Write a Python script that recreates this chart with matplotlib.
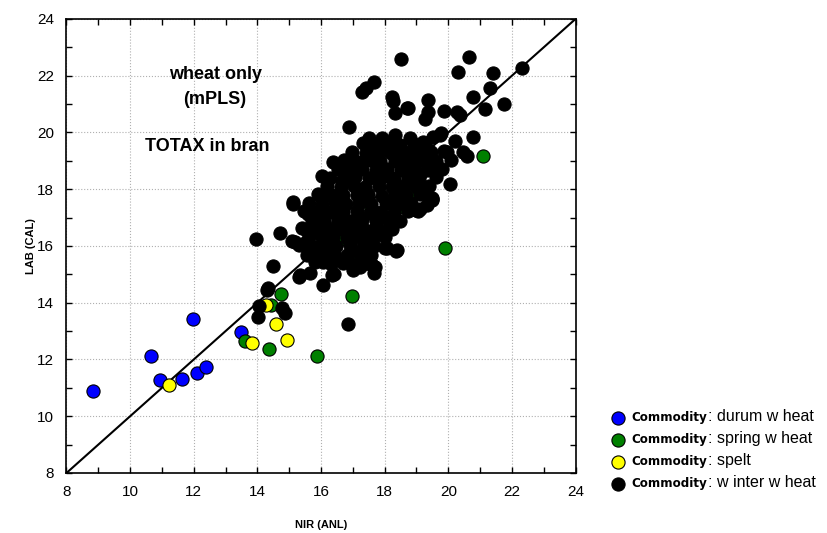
import matplotlib
matplotlib.use("Agg")
import matplotlib.pyplot as plt
from matplotlib.ticker import MultipleLocator

plt.rcParams['font.family'] = ['Liberation Sans', 'DejaVu Sans']

# ---------------- data ----------------
durum_x = [8.84, 10.66, 10.94, 11.63, 11.98, 12.10, 12.39, 13.49]
durum_y = [10.89, 12.12, 11.28, 11.31, 13.43, 11.52, 11.74, 12.97]

spring_x = [13.61, 14.37, 14.43, 14.74, 15.88, 16.97, 19.90, 21.10, 17.58, 18.46,
            16.38, 18.71, 18.90, 15.88, 16.44, 17.17, 16.57]
spring_y = [12.65, 12.37, 13.92, 14.31, 12.12, 14.24, 15.93, 19.17, 17.34, 17.37,
            17.76, 17.94, 17.87, 15.93, 15.58, 15.65, 16.21]

spelt_x = [11.22, 13.83, 14.27, 14.58, 14.93]
spelt_y = [11.10, 12.58, 13.92, 13.25, 12.69]

winter_x = [
    18.52, 17.67, 17.42, 17.29, 18.23, 18.27, 18.74, 18.33, 16.88, 17.51, 17.92, 16.38, 16.82, 16.03,
    20.66, 20.31, 21.41, 22.32, 21.32, 20.78, 21.76, 21.16, 19.37, 18.71, 19.37, 19.27, 19.87, 20.28,
    20.37, 20.78, 20.22, 19.78, 19.53, 20.47, 20.59,
    15.12, 15.60, 15.97, 14.71, 13.96, 15.56, 15.09, 15.50, 14.49, 15.31, 15.66, 16.07, 16.41, 17.01,
    17.23, 17.64, 17.67, 16.70, 14.34, 18.08, 18.36, 18.99,
    20.06, 19.49, 19.33, 19.12, 19.21, 18.87, 19.12, 19.50,
    14.31, 14.06, 14.03, 14.78, 14.87, 16.85,
    16.66, 17.48, 17.39, 16.91, 18.33, 18.80, 19.21, 19.74, 19.37, 19.96, 18.11, 18.55, 18.90, 19.33,
    18.58, 19.53, 19.05, 17.77, 17.64, 18.17, 19.49,
    15.13, 16.03, 16.03, 15.56, 15.18, 15.50, 15.56, 15.34, 16.34, 17.00, 17.17, 17.61, 16.60, 16.28,
    16.50, 15.91, 16.07, 16.70, 17.23, 16.91, 17.45, 17.70,
    19.49, 19.05, 19.18, 18.39, 18.01, 17.70, 18.17,
    17.32, 17.71, 18.12, 18.48, 18.93, 19.28,
    16.98, 17.42, 17.83, 18.21, 18.64, 19.02, 19.46, 19.88,
    16.71, 17.08, 17.53, 17.87, 18.32, 18.69, 19.13, 19.62, 20.08,
    16.52, 16.93, 17.28, 17.74, 18.09, 18.53, 18.91, 19.34, 19.79,
    16.27, 16.73, 17.06, 17.52, 17.93, 18.28, 18.72, 19.08, 19.61,
    16.18, 16.62, 17.03, 17.38, 17.81, 18.24, 18.57, 19.02, 19.41,
    15.92, 16.31, 16.68, 17.14, 17.49, 17.92, 18.33, 18.68, 19.12,
    15.63, 16.02, 16.43, 16.79, 17.21, 17.58, 18.03, 18.41, 18.82,
    15.48, 15.91, 16.32, 16.69, 17.12, 17.53, 17.88, 18.29, 18.73,
    15.72, 16.08, 16.52, 16.91, 17.28, 17.73, 18.12, 18.47,
    15.41, 15.83, 16.19, 16.62, 17.02, 17.38, 17.79, 18.23,
    15.62, 16.03, 16.38, 16.83, 17.19, 17.62, 18.02,
    15.32, 15.71, 16.13, 16.48, 16.92, 17.31, 17.68,
    15.61, 16.02, 16.41, 16.82, 17.22, 17.58,
    15.82, 16.31, 16.88, 17.42,
]
winter_y = [
    22.59, 21.78, 21.57, 21.43, 21.25, 21.11, 20.86, 20.69, 20.19, 19.81, 19.81, 18.96, 18.85, 18.47,
    22.66, 22.13, 22.10, 22.27, 21.57, 21.25, 21.00, 20.83, 21.15, 20.86, 20.72, 20.48, 20.76, 20.72,
    20.62, 19.84, 19.70, 19.98, 19.84, 19.31, 19.17,
    17.48, 17.13, 16.92, 16.46, 16.25, 16.53, 16.18, 16.11, 15.30, 14.91, 15.05, 14.63, 15.01, 15.26,
    15.26, 15.30, 15.05, 15.40, 14.52, 15.93, 15.82, 17.27,
    18.18, 17.66, 17.44, 17.30, 18.04, 18.22, 18.54, 18.68,
    14.45, 13.88, 13.50, 13.81, 13.64, 13.25,
    18.29, 19.28, 19.03, 18.61, 19.91, 19.81, 19.66, 19.91, 19.38, 19.31, 19.38, 19.28, 19.03, 18.96,
    18.93, 18.68, 18.04, 19.03, 18.43, 18.43, 17.69,
    17.55, 17.69, 16.92, 16.56, 16.14, 16.11, 15.68, 14.98, 14.98, 15.15, 15.33, 15.33, 17.16, 16.39,
    16.74, 15.96, 15.44, 15.51, 15.79, 16.28, 16.14, 16.63,
    17.62, 17.23, 18.04, 15.86, 15.93, 15.26, 16.67,
    19.62, 19.58, 19.63, 19.57, 19.61, 19.59,
    19.31, 19.28, 19.33, 19.29, 19.32, 19.27, 19.30, 19.33,
    19.02, 18.98, 19.03, 18.99, 19.01, 18.97, 19.02, 18.99, 19.03,
    18.71, 18.68, 18.72, 18.69, 18.73, 18.68, 18.71, 18.67, 18.72,
    18.41, 18.38, 18.42, 18.39, 18.43, 18.37, 18.41, 18.38, 18.42,
    18.12, 18.08, 18.11, 18.07, 18.13, 18.09, 18.12, 18.08, 18.11,
    17.82, 17.78, 17.81, 17.79, 17.83, 17.77, 17.81, 17.79, 17.82,
    17.52, 17.48, 17.51, 17.49, 17.53, 17.47, 17.52, 17.48, 17.51,
    17.22, 17.18, 17.21, 17.19, 17.23, 17.17, 17.21, 17.19, 17.22,
    16.92, 16.88, 16.91, 16.89, 16.93, 16.87, 16.91, 16.89,
    16.62, 16.58, 16.61, 16.59, 16.63, 16.57, 16.61, 16.59,
    16.32, 16.28, 16.31, 16.29, 16.33, 16.27, 16.31,
    16.02, 15.98, 16.01, 15.99, 16.03, 15.97, 16.01,
    15.72, 15.68, 15.71, 15.69, 15.73, 15.67,
    15.42, 15.38, 15.43, 15.39,
]

groups = ["durum w heat", "spring w heat", "spelt", "w inter w heat"]
colors = ["#0000FF", "#008000", "#FFFF00", "#000000"]

# ---------------- figure ----------------
fig = plt.figure(figsize=(8.27, 5.33), dpi=100)
ax = fig.add_axes([0.0804, 0.1126, 0.6155, 0.8518])

ax.set_xlim(8, 24)
ax.set_ylim(8, 24)
ax.plot([8, 24], [8, 24], color='black', lw=1.5, zorder=2)

series = [(durum_x, durum_y), (spring_x, spring_y), (spelt_x, spelt_y), (winter_x, winter_y)]
handles = []
for (xs, ys), c in zip(series, colors):
    h = ax.scatter(xs, ys, s=90, c=c, edgecolors='black', linewidths=0.8, zorder=3, clip_on=False)
    handles.append(h)

ax.xaxis.set_major_locator(MultipleLocator(2))
ax.yaxis.set_major_locator(MultipleLocator(2))
ax.xaxis.set_minor_locator(MultipleLocator(1))
ax.yaxis.set_minor_locator(MultipleLocator(1))
ax.tick_params(which='both', direction='in', top=True, right=True, width=1.0)
ax.tick_params(which='major', length=4, labelsize=11, pad=9)
ax.tick_params(which='minor', length=4)
ax.grid(True, which='major', linestyle=':', color='#b0b0b0', lw=0.8)
ax.set_axisbelow(True)
for sp in ax.spines.values():
    sp.set_linewidth(1.2)

ax.set_xlabel("NIR (ANL)", fontsize=8, fontweight='bold', labelpad=14.5)
ax.set_ylabel("LAB (CAL)", fontsize=8, fontweight='bold', labelpad=0.5)

ax.text(12.67, 22.03, "wheat only", ha='center', va='center', fontsize=13, fontweight='bold')
ax.text(12.67, 21.15, "(mPLS)", ha='center', va='center', fontsize=13, fontweight='bold')
ax.text(12.42, 19.52, "TOTAX in bran", ha='center', va='center', fontsize=13, fontweight='bold')

leg = ax.legend(handles, ["Commodity"] * 4, loc='center left',
                bbox_to_anchor=(0.733, 0.155), bbox_transform=fig.transFigure,
                frameon=False, borderpad=0, handlelength=1.0, handletextpad=0.6,
                labelspacing=0.75, prop={'family': 'DejaVu Sans', 'weight': 'bold', 'size': 8.6},
                scatterpoints=1)

fig.canvas.draw()
renderer = fig.canvas.get_renderer()
inv = fig.transFigure.inverted()
for t, g in zip(leg.get_texts(), groups):
    bb = t.get_window_extent(renderer)
    x0, y0 = inv.transform((bb.x1 + 0.5, bb.y0 + 2.8))
    fig.text(x0, y0, ": " + g, ha='left', va='baseline', fontsize=11.5)

fig.savefig("out.png", dpi=100)
